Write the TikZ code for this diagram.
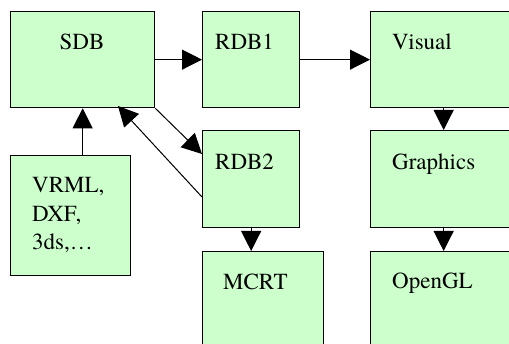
\documentclass[tikz,border=0pt]{standalone}
\usepackage{fontspec}
\newfontfamily\boxfont{TeX Gyre Termes}
\usetikzlibrary{arrows.meta}
\definecolor{boxgreen}{RGB}{204,255,204}
\tikzset{
  box/.style={draw=black, line width=1.3pt, fill=boxgreen, inner sep=0pt},
  lbl/.style={inner sep=0pt, font=\boxfont\fontsize{23}{28.5}\selectfont},
  arr/.style={draw=black, line width=1pt, -{Triangle[length=20pt,width=20pt]}}
}
\begin{document}
\begin{tikzpicture}[x=1pt,y=-1pt]
\useasboundingbox (0,0) rectangle (509,344);
\clip (0,0) rectangle (509,344);
% boxes
\node[box, minimum width=144pt, minimum height=96pt, anchor=north west] (sdb) at (10,11) {};
\node[box, minimum width=97pt, minimum height=96pt, anchor=north west] (rdb1) at (202,11) {};
\node[box, minimum width=146pt, minimum height=96pt, anchor=north west] (visual) at (370,11) {};
\node[box, minimum width=97pt, minimum height=97pt, anchor=north west] (rdb2) at (202,130) {};
\node[box, minimum width=146pt, minimum height=97pt, anchor=north west] (graphics) at (370,130) {};
\node[box, minimum width=120pt, minimum height=120pt, anchor=north west] (vrml) at (10,155) {};
\node[box, minimum width=121pt, minimum height=120pt, anchor=north west] (mcrt) at (202,251) {};
\node[box, minimum width=146pt, minimum height=120pt, anchor=north west] (opengl) at (370,251) {};
% labels
\node[lbl, anchor=base] (sdbt) at (82,50) {SDB};
\node[lbl, anchor=base west] (rdb1t) at (215,50) {RDB1};
\node[lbl, anchor=base west] (visualt) at (392,50) {Visual};
\node[lbl, anchor=base west] (rdb2t) at (215,170) {RDB2};
\node[lbl, anchor=base west] (graphicst) at (392,170) {Graphics};
\node[lbl, anchor=base west] (vrmlt1) at (32,193) {VRML,};
\node[lbl, anchor=base west] (vrmlt2) at (32,221.5) {DXF,};
\node[lbl, anchor=base west] (vrmlt3) at (32,250) {3ds,…};
\node[lbl, anchor=base west] (mcrtt) at (223,290) {MCRT};
\node[lbl, anchor=base west] (openglt) at (392,289) {OpenGL};
% connectors
\coordinate (sdbin) at (118,106);
\coordinate (rdb2out) at (202,197);
\coordinate (rdb2in) at (202,154);
\draw[arr] (sdb.east) -- (rdb1.west);
\draw[arr] (rdb1.east) -- (visual.west);
\draw[arr] (visual.south) -- (graphics.north);
\draw[arr] (graphics.south) -- (opengl.north);
\draw[arr] (rdb2.south) -- (rdb2.south |- mcrt.north);
\draw[arr] (sdb.south |- vrml.north) -- (sdb.south);
\draw[arr] (sdb.south east) -- (rdb2in);
\draw[arr] (rdb2out) -- (sdbin);
\end{tikzpicture}
\end{document}
